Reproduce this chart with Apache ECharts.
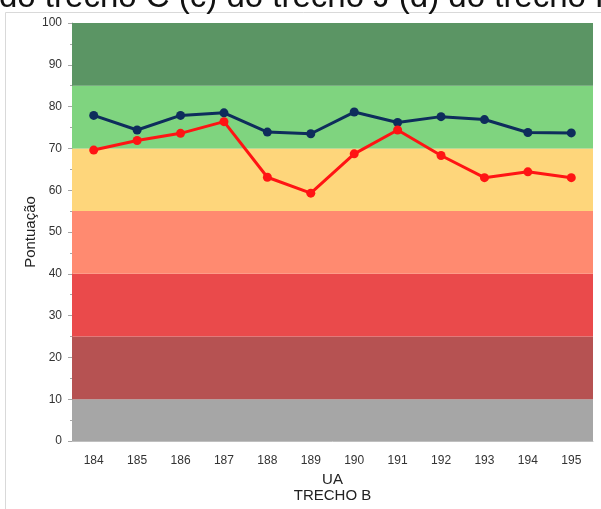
<!DOCTYPE html>
<html>
<head>
<meta charset="utf-8">
<script src="https://cdn.jsdelivr.net/npm/echarts@6/dist/echarts.min.js"></script>
<style>
  html, body { margin: 0; padding: 0; background: #fff; }
  #chart { width: 601px; height: 509px; }
</style>
</head>
<body>
<div id="chart"></div>
<script>
// Units (UA) of section B
const categories = ['184', '185', '186', '187', '188', '189', '190', '191', '192', '193', '194', '195'];

// Score per unit, two series
const seriesBlue = [77.9, 74.4, 77.9, 78.5, 73.9, 73.5, 78.7, 76.2, 77.6, 76.9, 73.8, 73.7];
const seriesRed  = [69.6, 71.9, 73.6, 76.4, 63.1, 59.3, 68.7, 74.4, 68.3, 63.0, 64.4, 63.0];

// Quality bands on the score axis
const bandLimits = [0, 10, 25, 40, 55, 70, 85, 100];
const bandColors = ['#a6a6a6', '#b65252', '#ea4a4b', '#ff8a70', '#fed67b', '#7fd47f', '#5b9564'];

const captionText = 'do trecho C (c) do trecho J (d) do trecho R';

const bandAreas = bandColors.map((c, i) => [
  { yAxis: bandLimits[i], itemStyle: { color: c, opacity: 1 } },
  { yAxis: bandLimits[i + 1] }
]);

const FONT = '"Liberation Sans", Arial, sans-serif';

const chart = echarts.init(document.getElementById('chart'), null, { renderer: 'canvas' });

chart.setOption({
  animation: false,
  backgroundColor: '#ffffff',
  graphic: [
    {
      type: 'rect',
      z: -10,
      shape: { x: 5.5, y: 12.5, width: 620, height: 520 },
      style: { fill: '#ffffff', stroke: '#d9d9d9', lineWidth: 1 }
    },
    {
      type: 'text',
      x: -1,
      y: -2,
      style: {
        text: captionText,
        font: '33px ' + FONT,
        fill: '#111',
        verticalAlign: 'middle'
      }
    }
  ],
  grid: { left: 72, right: 8, top: 23, bottom: 68, containLabel: false },
  xAxis: {
    type: 'category',
    data: categories,
    boundaryGap: true,
    name: 'UA\nTRECHO B',
    nameLocation: 'middle',
    nameGap: 31,
    nameMoveOverlap: false,
    nameTextStyle: { fontSize: 15, color: '#222', lineHeight: 16, fontFamily: FONT },
    axisLine: { show: true, lineStyle: { color: '#bfbfbf', width: 1 } },
    axisTick: { show: false },
    axisLabel: { margin: 14, fontSize: 12, color: '#333', fontFamily: FONT },
    splitLine: { show: false }
  },
  yAxis: {
    type: 'value',
    min: 0,
    max: 100,
    interval: 10,
    name: 'Pontuação',
    nameLocation: 'middle',
    nameGap: 34,
    nameMoveOverlap: false,
    nameRotate: 90,
    nameTextStyle: { fontSize: 15, color: '#222', fontFamily: FONT },
    axisLine: { show: true, lineStyle: { color: '#a6a6a6', width: 1 } },
    axisTick: { show: true, length: 4, lineStyle: { color: '#a6a6a6' } },
    minorTick: { show: true, splitNumber: 2, length: 2, lineStyle: { color: '#a6a6a6' } },
    axisLabel: { margin: 10, fontSize: 12, color: '#333', fontFamily: FONT },
    splitLine: { show: true, lineStyle: { color: 'rgba(0,0,0,0.07)', width: 1 } }
  },
  series: [
    {
      name: 'Faixas',
      type: 'line',
      data: [],
      silent: true,
      z: 0,
      markArea: { silent: true, data: bandAreas }
    },
    {
      name: 'Série 1',
      type: 'line',
      data: seriesBlue,
      z: 3,
      symbol: 'circle',
      symbolSize: 9,
      lineStyle: { color: '#0e2d5c', width: 3 },
      itemStyle: { color: '#0e2d5c' }
    },
    {
      name: 'Série 2',
      type: 'line',
      data: seriesRed,
      z: 4,
      symbol: 'circle',
      symbolSize: 9,
      lineStyle: { color: '#ff1414', width: 3 },
      itemStyle: { color: '#ff1414' }
    }
  ]
});
</script>
</body>
</html>
